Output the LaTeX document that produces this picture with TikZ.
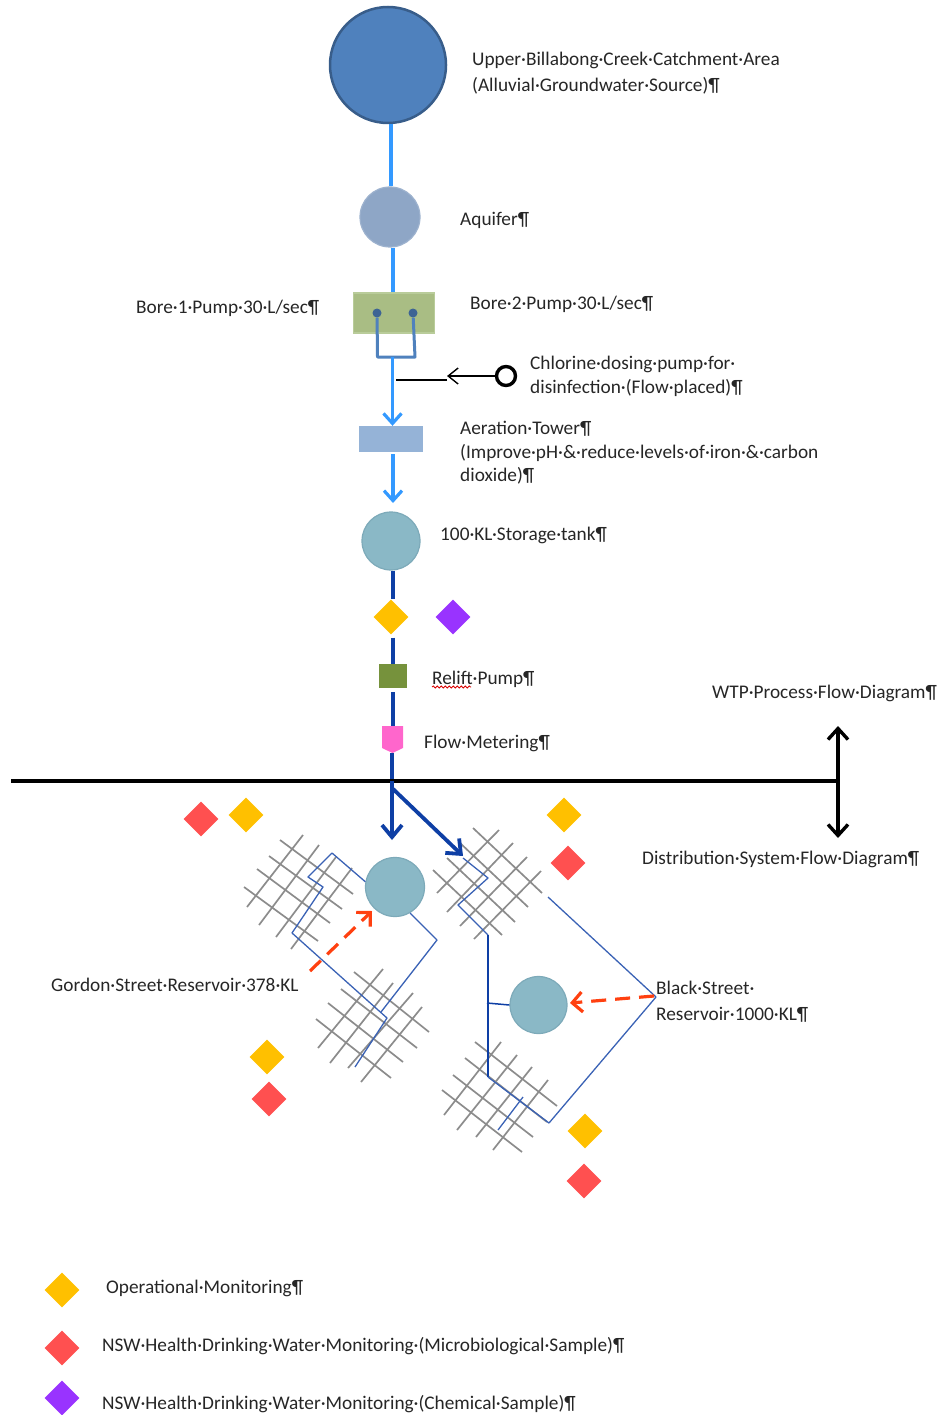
\documentclass[tikz,border=0pt]{standalone}
\usepackage{fontspec}
\setmainfont{Carlito}
\usetikzlibrary{arrows.meta,shapes.geometric,decorations.pathmorphing}
\definecolor{srcfill}{HTML}{4F81BD}
\definecolor{srcedge}{HTML}{385D8A}
\definecolor{aqfill}{HTML}{8EA6C6}
\definecolor{aqedge}{HTML}{9DB2CE}
\definecolor{borefill}{HTML}{A9BD84}
\definecolor{boreedge}{HTML}{B9CC9A}
\definecolor{aerfill}{HTML}{95B3D7}
\definecolor{tankfill}{HTML}{8AB8C6}
\definecolor{tankedge}{HTML}{7DAAB9}
\definecolor{lightflow}{HTML}{3399FF}
\definecolor{darkflow}{HTML}{0E3FA5}
\definecolor{netblue}{HTML}{3A62B5}
\definecolor{reddash}{HTML}{FF4010}
\definecolor{opmon}{HTML}{FFC000}
\definecolor{micro}{HTML}{FF5050}
\definecolor{chem}{HTML}{9933FF}
\definecolor{reliftc}{HTML}{76923C}
\definecolor{flowc}{HTML}{FF66CC}
\definecolor{txt}{HTML}{262626}
\tikzset{
  lbl/.style={anchor=west,inner sep=0pt,yshift=-1pt,align=left,text=txt,font=\fontsize{19.3}{#1}\selectfont},
  lbl/.default=24,
  tank/.style={circle,fill=tankfill,draw=tankedge,line width=1.2pt,inner sep=0pt},
  mon/.style={diamond,inner sep=0pt,minimum width=35pt,minimum height=35pt,fill=#1},
  hatch/.style={draw=black!45,line width=1.7pt},
  lightpipe/.style={draw=lightflow,line width=3.2pt},
  lighttip/.style={lightpipe,-{Straight Barb[length=10pt,width=18pt,line width=3.2pt]}},
  darkpipe/.style={draw=darkflow,line width=3.4pt},
  darktip/.style={draw=darkflow,line width=3.8pt,-{Straight Barb[length=12pt,width=20pt,line width=3.8pt]}},
  net/.style={draw=netblue,line width=1.3pt,line join=round},
  dose/.style={draw=reddash,line width=3.2pt,dash pattern=on 15pt off 9pt,-{Straight Barb[length=10pt,width=20pt,line width=3.2pt]}},
  bothtip/.style={draw=black,line width=3.4pt,{Straight Barb[length=11pt,width=20pt,line width=3.4pt]}-{Straight Barb[length=11pt,width=20pt,line width=3.4pt]}},
}
\begin{document}
\begin{tikzpicture}[x=1pt,y=-1pt]
\useasboundingbox (0,0) rectangle (944,1415);
% hatch blocks
\foreach \xa/\ya/\xb/\yb in {
 280/840/353/894,269/856/342/909,257/869/330/923,244/887/318/941,
 247/907/303/835,259/925/319/845,276/937/336/857,291/949/352/868,
 354/972/429/1032,341/989/417/1048,328/1003/403/1062,316/1019/391/1078,
 318/1048/383/969,330/1063/393/983,348/1068/413/993,361/1082/422/1007,
 473/828/542/893,460/843/528/907,447/858/515/922,433/870/502/935,
 437/893/499/830,447/912/513/843,460/926/527/857,474/939/541/871,
 475/1042/557/1106,465/1058/547/1122,453/1075/533/1137,442/1090/522/1152,
 444/1115/501/1042,457/1130/517/1055,476/1137/532/1067,493/1150/548/1080}
 {\draw[hatch] (\xa,\ya) -- (\xb,\yb);}
% process nodes
\node[circle,fill=srcfill,draw=srcedge,line width=2.5pt,minimum size=116pt,inner sep=0pt] (src) at (388,65) {};
\node[circle,fill=aqfill,draw=aqedge,line width=1.2pt,minimum size=60pt,inner sep=0pt] (aq) at (390,217) {};
\node[rectangle,fill=borefill,draw=boreedge,line width=1.2pt,minimum width=81pt,minimum height=40pt,inner sep=0pt] (bore) at (394,313) {};
\node[circle,fill=srcedge!80!srcfill,inner sep=0pt,minimum size=9pt] (b1) at (377,313) {};
\node[circle,fill=srcedge!80!srcfill,inner sep=0pt,minimum size=9pt] (b2) at (413,313) {};
\coordinate (ub1) at (377.5,357);
\coordinate (ub2) at (415,357);
\coordinate (um) at (392.5,357);
\node[rectangle,fill=aerfill,minimum width=64pt,minimum height=26pt,inner sep=0pt] (aer) at (391,439) {};
\node[circle,draw=black,fill=white,line width=3.4pt,minimum size=19pt,inner sep=0pt] (cl) at (506,376) {};
\coordinate (clj) at (447,376);
\coordinate (cls) at (447,380);
\coordinate (cle) at (396,380);
\coordinate (aero) at (393,454);
\coordinate (sti) at (393,503);
\node[tank,minimum size=58pt] (st) at (391,541) {};
\node[mon=opmon] (d1) at (391,617) {};
\node[mon=chem] (d2) at (453,617) {};
\node[rectangle,fill=reliftc,minimum width=28pt,minimum height=24pt,inner sep=0pt] (rp) at (393,676) {};
\fill[flowc] (382,726) -- (403,726) -- (403,748) -- (392.5,753) -- (382,748) -- cycle;
\coordinate (fmt) at (393,726);
\coordinate (fmb) at (392,753);
\coordinate (wl) at (11,781);
\coordinate (wr) at (838,781);
\coordinate (up) at (838,726);
\coordinate (dn) at (838,838);
\coordinate (j0) at (392,781);
\coordinate (j1) at (392,788);
\coordinate (gt) at (392,840);
\coordinate (bt) at (463,856);
\node[tank,minimum size=59pt] (gord) at (395,887) {};
\node[tank,minimum size=57pt] (blk) at (538.5,1005) {};
% upper connectors
\draw[lightpipe] ([xshift=3pt]src.south) -- ([xshift=1pt]aq.north);
\draw[lightpipe] ([xshift=3pt]aq.south) -- ([xshift=-1pt]bore.north);
\draw[draw=srcfill,line width=3pt,line join=round] (b1) -- (ub1) -- (ub2) -- (b2);
\draw[lighttip] (um) -- ([xshift=1.5pt]aer.north);
\draw[lighttip] (aero) -- (sti);
\draw[black,line width=1.4pt,-{Straight Barb[length=10pt,width=16pt,line width=1.4pt]}] (cl.west) -- (clj);
\draw[black,line width=1.4pt] (cls) -- (cle);
\draw[darkpipe] ([xshift=2pt]st.south) -- ([xshift=2pt]d1.north);
\draw[darkpipe] ([xshift=2pt,yshift=-3pt]d1.south) -- (rp.north);
\draw[darkpipe] ([yshift=-4pt]rp.south) -- (fmt);
\draw[darkpipe] (fmb) -- (j0);
% divider
\draw[black,line width=3.4pt] (wl) -- (wr);
\draw[bothtip] (up) -- (dn);
\draw[darktip] (j0) -- (gt);
\draw[darktip] (j1) -- (bt);
% networks
\draw[net] (gord.170) -- (332,853) -- (308,877) -- (323,887) -- (292,933) -- (387,1018) -- (355,1067);
\draw[net] (gord.-60) -- (437,940) -- (381,1012);
\draw[net] (463,858) -- (488,878) -- (458,905) -- (488,935);
\draw[draw=darkflow,line width=1.5pt] (488,935) -- (488,1077);
\draw[draw=darkflow,line width=1.5pt] (487,1003) -- (blk.west);
\draw[net] (488,1077) -- (549,1123) -- (656,997) -- (548,897);
\draw[net] (498,1130) -- (523,1097);
% dosing
\coordinate (gd) at (310,971);
\coordinate (bd) at (654,996);
\draw[dose] (gd) -- (372,911);
\draw[dose] (bd) -- (570,1003);
% monitoring points
\node[mon=micro] (m1) at (201,819) {};
\node[mon=opmon] (o1) at (246,815) {};
\node[mon=opmon] (o2) at (564,815) {};
\node[mon=micro] (m2) at (568,863) {};
\node[mon=opmon] (o3) at (267,1057) {};
\node[mon=micro] (m3) at (269,1099) {};
\node[mon=opmon] (o4) at (585,1131) {};
\node[mon=micro] (m4) at (584,1181) {};
\node[mon=opmon] (lo) at (62,1290) {};
\node[mon=micro] (lm) at (62,1348) {};
\node[mon=chem] (lc) at (62,1398) {};
% labels
\node[lbl=26] (t1) at (472,72) {Upper·Billabong·Creek·Catchment·Area\\(Alluvial·Groundwater·Source)¶};
\node[lbl] (t2) at (460,219) {Aquifer¶};
\node[lbl] (t3) at (136,307) {Bore·1·Pump·30·L/sec¶};
\node[lbl] (t4) at (470,303) {Bore·2·Pump·30·L/sec¶};
\node[lbl=24] (t5) at (530,375) {Chlorine·dosing·pump·for·\\disinfection·(Flow·placed)¶};
\node[lbl=23.5] (t6) at (460,452) {Aeration·Tower¶\\(Improve·pH·\&·reduce·levels·of·iron·\&·carbon\\dioxide)¶};
\node[lbl] (t7) at (440,534) {100·KL·Storage·tank¶};
\node[lbl] (t8) at (432,678) {Relift·Pump¶};
\draw[red!85!black,line width=0.8pt,decorate,decoration={snake,amplitude=1pt,segment length=4pt}] (432,687) -- (471,687);
\node[lbl] (t9) at (424,742) {Flow·Metering¶};
\node[lbl] (t10) at (712,692) {WTP·Process·Flow·Diagram¶};
\node[lbl] (t11) at (642,858) {Distribution·System·Flow·Diagram¶};
\node[lbl] (t12) at (51,984) {Gordon·Street·Reservoir·378·KL};
\node[lbl=26] (t13) at (656,1001) {Black·Street·\\Reservoir·1000·KL¶};
\node[lbl] (t14) at (106,1287) {Operational·Monitoring¶};
\node[lbl] (t15) at (102,1345) {NSW·Health·Drinking·Water·Monitoring·(Microbiological·Sample)¶};
\node[lbl] (t16) at (102,1403) {NSW·Health·Drinking·Water·Monitoring·(Chemical·Sample)¶};
\end{tikzpicture}
\end{document}
